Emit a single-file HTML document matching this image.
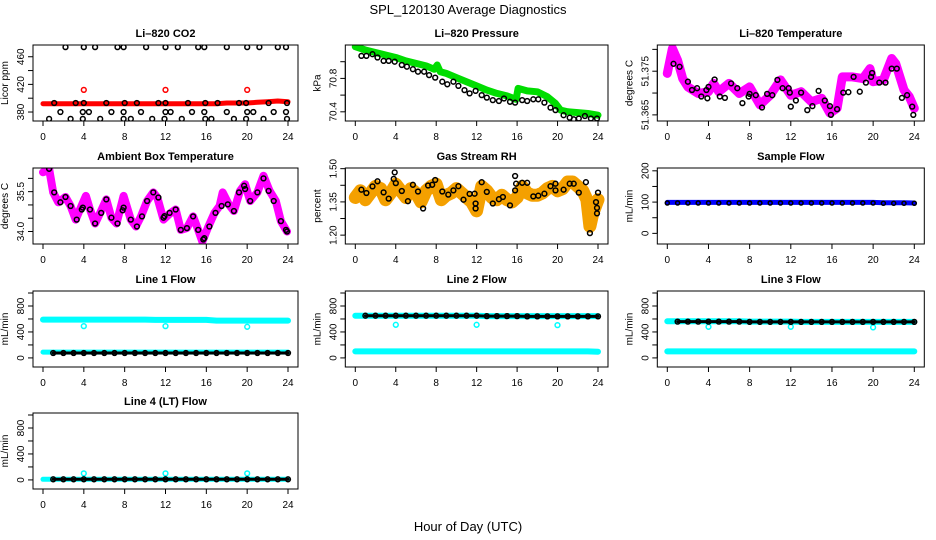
<!DOCTYPE html>
<html><head><meta charset="utf-8">
<style>
html,body{margin:0;padding:0;background:#fff;}
svg{display:block;font-family:"Liberation Sans",Arial,sans-serif;}
</style></head>
<body>
<svg id="chart" width="936" height="540" viewBox="0 0 936 540" xmlns="http://www.w3.org/2000/svg">
<rect width="936" height="540" fill="#fff"/>
<text x="468" y="14" font-size="13" text-anchor="middle">SPL_120130  Average Diagnostics</text>
<text x="468" y="531" font-size="13" text-anchor="middle">Hour of Day (UTC)</text>
</svg>
<script>
// ---------- data ----------
const HOURS = [0,1,2,3,4,5,6,7,8,9,10,11,12,13,14,15,16,17,18,19,20,21,22,23,24];
const xTicks = [0,4,8,12,16,20,24];

// CO2
const co2Red = [392,392,392,392,392,392,392,392,392,392,392,392,392,392,392,392,392,392,393,393,393,394,395,396,395];
const co2OutT = [4,12,20];
const co2OutV = [412,412,412];
const co2TopT = [2.2,4,5.1,7.3,7.9,10.1,12,13.2,15.2,15.8,18,20,21.2,23,23.8];
const co2TopV = [474,474,474,474,474,474,474,474,474,474,474,474,474,474,474];
const co2MidT = [1.1,3.2,4,6.2,8,9.2,11.3,12,14.2,15.9,17.1,19.2,19.9,22.1,23.9];
const co2MidV = [393,393,393,393,393,393,393,393,393,393,393,393,393,393,393];
const co2LowT = [1.7,3.9,4.5,6.7,7.9,9.6,12,12.5,14.6,15.8,18,20,20.6,22.6,23.8];
const co2LowV = [380,380,380,380,380,380,380,380,380,380,380,380,380,380,380];
const co2BotT = [0.6,2.7,3.9,5.6,7.9,8.6,10.7,11.9,13.6,15.9,16.5,18.7,19.9,21.6,23.9];
const co2BotV = [370,370,370,370,370,370,370,370,370,370,370,370,370,370,370];

// Pressure
const presT = [0,1,2,3,4,5,6,7,7.8,8.1,8.4,9,10,11,12,13,14,15,15.9,16.1,17,18,19,19.8,20.3,21,22,23,24];
const presV = [71.18,71.14,71.11,71.08,71.05,71.01,70.98,70.95,70.91,70.96,70.88,70.86,70.81,70.76,70.71,70.66,70.62,70.59,70.55,70.68,70.65,70.64,70.58,70.50,70.42,70.40,70.39,70.38,70.36];
const presBlkT = [0.6,1.1,1.7,2.2,2.8,3.3,3.9,4.6,5.1,5.7,6.2,6.8,7.3,7.9,8.6,9.1,9.7,10.2,10.8,11.3,11.9,12.5,13,13.6,14.2,14.7,15.3,15.8,16.5,17,17.6,18.1,18.7,19.3,19.8,20.6,21.2,21.6,22.1,22.7,23.3,23.9];
const presBlkV = [71.07,71.07,71.09,71.05,71.01,71.01,71.0,70.96,70.94,70.91,70.88,70.88,70.84,70.81,70.76,70.73,70.76,70.71,70.66,70.62,70.65,70.60,70.57,70.54,70.53,70.56,70.52,70.51,70.54,70.53,70.55,70.55,70.51,70.45,70.42,70.36,70.33,70.31,70.32,70.35,70.32,70.32];

// Li-820 temperature
const tempT = [0,0.5,1,1.5,2,3,4,4.5,5,6,7,8,9,10,11,12,13,14,15,15.8,16.5,17,18,19,19.7,20,21,21.8,22.2,23,23.5,24];
const tempV = [51.3745,51.3802,51.3775,51.3733,51.3714,51.3699,51.3703,51.3722,51.3703,51.3722,51.3699,51.3714,51.3673,51.3695,51.3730,51.3695,51.3703,51.3680,51.3688,51.3654,51.3665,51.3737,51.3737,51.3733,51.3756,51.3726,51.3730,51.3779,51.3767,51.3707,51.3692,51.3665];
const tempBlkT = [0.6,1.2,2,2.4,2.9,3.3,3.8,3.9,4,4.6,5.1,5.6,6.2,6.8,7.3,7.9,8,8.6,9.2,9.7,10.2,10.7,11.2,11.8,11.9,12,12.5,13,13.6,14.1,14.7,15.3,15.8,15.9,16.5,17.1,17.6,18.1,18.7,19.3,19.8,19.9,20.6,21.2,21.8,22.3,22.8,23.3,23.8,23.9];
const tempBlkV = [51.3767,51.3760,51.3726,51.3707,51.3711,51.3692,51.3707,51.3688,51.3714,51.3731,51.3692,51.3689,51.3722,51.3711,51.3677,51.3692,51.3698,51.3695,51.3667,51.3698,51.3695,51.3730,51.3711,51.3711,51.3701,51.3669,51.3683,51.3701,51.3661,51.3670,51.3705,51.3683,51.3670,51.3650,51.3663,51.3701,51.3702,51.3737,51.3703,51.3724,51.3737,51.3746,51.3724,51.3724,51.3756,51.3756,51.3689,51.3695,51.3669,51.3650];

// Ambient box temperature
const ambT = [0,0.6,1,1.5,2.2,2.7,3.2,3.7,4.2,4.6,5.1,5.6,6.2,6.7,7.2,7.9,8.6,9.1,9.6,10.2,10.8,11.2,11.8,12.5,13,13.5,14.1,14.7,15.2,15.6,16.2,16.8,17.3,17.6,18.2,18.7,19.3,19.8,20.3,21,21.6,22.2,22.8,23.3,23.9];
const ambV = [36.23,36.36,35.47,35.1,35.3,34.96,34.45,34.9,35.34,34.83,34.3,34.7,35.21,34.52,34.3,35.34,34.45,34.19,34.57,35.15,35.47,35.28,34.45,34.7,34.83,34.06,34.13,34.57,34.06,33.62,34.19,34.7,34.96,35.47,35.02,34.77,35.53,35.78,35.15,35.47,36.1,35.53,35.15,34.39,34.0];
const ambBlkT = [0.6,1.1,1.7,2.2,2.7,3.3,3.8,3.9,4.6,5.1,5.7,6.2,6.7,7.3,7.8,7.9,8.6,9.2,9.7,10.2,10.8,11.3,11.8,11.9,12.4,13,13.5,14.1,14.7,15.2,15.7,15.8,16.3,16.9,17.5,18.1,18.7,19.2,19.7,19.8,20.3,21,21.6,22.1,22.6,23.3,23.8,23.9];
const ambBlkV = [36.36,35.47,35.1,35.3,34.96,34.45,34.83,34.9,34.83,34.3,34.7,35.21,34.52,34.3,34.8,34.9,34.45,34.19,34.57,35.15,35.47,35.28,34.52,34.58,34.7,34.83,34.06,34.13,34.57,34.06,33.7,33.75,34.19,34.7,34.96,35.02,34.77,35.47,35.72,35.6,35.15,35.47,36.0,35.53,35.15,34.39,34.06,34.0];

// Gas stream RH
const rhT = [0,0.5,1,1.5,2,2.5,3,3.5,4,4.5,5,5.5,6,6.5,7,7.5,8,8.5,9,9.5,10,10.5,11,11.5,12,12.5,13,13.5,14,14.5,15,15.5,16,16.5,17,17.5,18,18.5,19,19.5,20,20.5,21,21.5,22,22.5,22.9,23.2,23.5,24];
const rhV = [1.37,1.40,1.36,1.39,1.42,1.41,1.36,1.39,1.43,1.40,1.37,1.41,1.39,1.35,1.40,1.42,1.43,1.36,1.38,1.39,1.41,1.39,1.37,1.35,1.31,1.42,1.40,1.37,1.36,1.38,1.36,1.35,1.37,1.42,1.39,1.38,1.38,1.39,1.41,1.42,1.40,1.41,1.44,1.44,1.42,1.40,1.36,1.24,1.30,1.36];
const rhBlkT = [0.6,1.1,1.7,2.2,2.8,3.3,3.8,3.9,4,4.6,5.2,5.7,6.2,6.7,7.2,7.6,7.9,8.6,9.2,9.7,10.2,10.7,11.3,11.8,11.9,11.9,12.5,13,13.6,14.2,14.6,15.3,15.8,15.8,15.9,16.5,17,17.6,18.1,18.7,19.3,19.8,19.8,20.6,21.2,21.6,22.1,22.8,23.2,23.8,23.9,23.9,24];
const rhBlkV = [1.405,1.39,1.42,1.443,1.393,1.365,1.454,1.483,1.435,1.399,1.353,1.427,1.397,1.32,1.424,1.427,1.449,1.397,1.383,1.402,1.421,1.36,1.386,1.387,1.343,1.32,1.439,1.395,1.343,1.362,1.372,1.334,1.402,1.467,1.432,1.436,1.436,1.375,1.378,1.387,1.421,1.432,1.402,1.405,1.432,1.432,1.392,1.439,1.209,1.349,1.323,1.298,1.392];

// Sample flow
const sampleBlue = [99,99,99,99,99,99,99,99,99,99,99,99,99,99,99,99,99,99,99,99,99,98,98,98,97];
const sampleBlk = [97,97,97,97,97,97,97,97,97,97,97,97,97,97,97,97,97,97,97,97,97,96,96,96,96];

// Line flows
const flowOutT = [4,12,20];
const l1Hi = [590,590,590,590,590,590,590,590,590,590,590,585,585,585,585,585,585,575,575,575,575,575,575,575,575];
const l1Out = [490,490,480];
const l1Lo = [90,90,90,90,90,90,90,90,90,90,90,90,90,90,90,90,90,90,90,90,90,90,90,90,90];
const l1Blk = [75,75,75,75,75,75,75,75,75,75,75,75,75,75,75,75,75,75,75,75,75,75,75,75,75];
const l2Hi = [650,650,650,650,650,650,650,650,650,650,650,650,650,645,645,645,645,645,645,645,645,645,645,645,645];
const l2Out = [510,510,505];
const l2Lo = [100,100,100,100,100,100,100,100,100,100,100,100,100,100,100,100,100,100,100,100,100,100,100,100,95];
const l2Blk = [650,650,650,650,650,650,650,650,650,650,650,650,650,645,645,645,645,640,640,640,640,640,640,640,640];
const l3Hi = [565,565,565,565,565,565,565,565,560,560,560,560,560,555,555,555,555,555,555,555,555,555,555,555,555];
const l3Out = [480,480,470];
const l3Lo = [100,100,100,100,100,100,100,100,100,100,100,100,100,100,100,100,100,100,100,100,100,100,100,100,100];
const l3Blk = [560,560,560,560,560,560,560,560,555,555,555,555,555,555,555,555,555,555,555,555,555,555,555,555,555];
const l4Lo = [10,10,10,10,10,10,10,10,10,10,10,10,10,10,10,10,10,10,10,10,10,10,10,10,10];
const l4Out = [100,100,100];
const l4Blk = [10,10,10,10,10,10,10,10,10,10,10,10,10,10,10,10,10,10,10,10,10,10,10,10,10];

// ---------- drawing ----------
const NS = 'http://www.w3.org/2000/svg';
const svg = document.getElementById('chart');
function mk(tag, attrs, parent){ const e=document.createElementNS(NS,tag); for(const k in attrs) e.setAttribute(k,attrs[k]); (parent||svg).appendChild(e); return e; }

const COLS = [[43,288],[355.3,598],[667.3,914.3]];
const ROWS = [[45,121],[168,244],[291,367],[413,489]];

function panel(name, col, row, ydom, yTicks, yLabels, title, ylab, series){
  const [x0,x24] = COLS[col];
  const [top,bot] = ROWS[row];
  const left = x0-10, right = x24+10;
  const sx = t => x0 + t*(x24-x0)/24;
  const sy = v => bot - (v-ydom[0])/(ydom[1]-ydom[0])*(bot-top);
  const g = mk('g',{});
  
  
  const cp = mk('clipPath',{id:'cp-'+name}, g);
  mk('rect',{x:left,y:top,width:right-left,height:bot-top},cp);
  const sg = mk('g',{'clip-path':'url(#cp-'+name+')'}, g);
  series.forEach(s=>{
    if(s.type==='band'){
      const pts = s.t.map((t,i)=>sx(t).toFixed(1)+','+sy(s.v[i]).toFixed(1)).join(' ');
      const pl = mk('polyline',{points:pts,fill:'none',stroke:s.color,'stroke-width':s.w,'stroke-linejoin':'round','stroke-linecap':'round'}, sg);
      
      
    } else {
      const pg = mk('g',{}, sg);
      
      
      s.t.forEach((t,i)=>{
        const c = mk('circle',{cx:sx(t).toFixed(1),cy:sy(s.v[i]).toFixed(1),r:s.r||2.4,fill:'none',stroke:s.color,'stroke-width':s.sw||1.5}, pg);
        
        
      });
    }
  });
  const box = mk('rect',{x:left,y:top,width:right-left,height:bot-top,fill:'none',stroke:'#000','stroke-width':1}, g);
  
  
  const xa = mk('g',{}, g);
  
  
  mk('line',{x1:sx(0),x2:sx(24),y1:bot,y2:bot,stroke:'#000'},xa);
  xTicks.forEach(t=>{
    mk('line',{x1:sx(t),x2:sx(t),y1:bot,y2:bot+5,stroke:'#000'},xa);
    const tx = mk('text',{x:sx(t),y:bot+19,'font-size':10,'text-anchor':'middle'},xa);
    tx.textContent = t;
  });
  const ya = mk('g',{}, g);
  
  
  mk('line',{x1:left,x2:left,y1:sy(yTicks[0]),y2:sy(yTicks[yTicks.length-1]),stroke:'#000'},ya);
  yTicks.forEach(v=>{ mk('line',{x1:left-5,x2:left,y1:sy(v),y2:sy(v),stroke:'#000'},ya); });
  yLabels.forEach(lb=>{
    const y = sy(parseFloat(lb));
    const tx = mk('text',{x:left-9,y:y,'font-size':10,'text-anchor':'middle',transform:'rotate(-90 '+(left-9)+' '+y+')'},ya);
    tx.textContent = lb;
  });
  const yt = mk('text',{x:left-25,y:(top+bot)/2,'font-size':10,'text-anchor':'middle',transform:'rotate(-90 '+(left-25)+' '+((top+bot)/2)+')'}, g);
  
  
  yt.textContent = ylab;
  const tt = mk('text',{x:(left+right)/2,y:top-8,'font-size':11,'font-weight':'bold','text-anchor':'middle'}, g);
  
  
  tt.textContent = title;
}

const FLOWDOM = [-140,1031];
const FLOWTICKS = [0,200,400,600,800,1000];
const FLOWLAB = ['0','400','800'];
const CY='#00ffff';

panel('co2',0,0,[367,477],[380,400,420,440,460],['380','420','460'],'Li\u2013820 CO2','Licor ppm',[
  {type:'band',name:'co2-series',t:HOURS,v:co2Red,color:'#ff0000',w:5},
  {type:'pts',name:'co2-outliers',t:co2OutT,v:co2OutV,color:'#ff0000'},
  {type:'pts',name:'co2-avg-high',t:co2TopT,v:co2TopV,color:'#000'},
  {type:'pts',name:'co2-avg-mid',t:co2MidT,v:co2MidV,color:'#000'},
  {type:'pts',name:'co2-avg-low',t:co2LowT,v:co2LowV,color:'#000'},
  {type:'pts',name:'co2-avg-bottom',t:co2BotT,v:co2BotV,color:'#000'}]);
panel('pressure',1,0,[70.29,71.2],[70.4,70.6,70.8,71.0],['70.4','70.8'],'Li\u2013820 Pressure','kPa',[
  {type:'band',name:'pressure-series',t:presT,v:presV,color:'#00dd00',w:7},
  {type:'pts',name:'pressure-avg',t:presBlkT,v:presBlkV,color:'#000'}]);
panel('temperature',2,0,[51.3636,51.381],[51.365,51.370,51.375,51.380],['51.365','51.375'],'Li\u2013820 Temperature','degrees C',[
  {type:'band',name:'temperature-series',t:tempT,v:tempV,color:'#ff00ff',w:9},
  {type:'pts',name:'temperature-avg',t:tempBlkT,v:tempBlkV,color:'#000'}]);
panel('ambient',0,1,[33.53,36.39],[34,34.5,35,35.5,36],['34.0','35.5'],'Ambient Box Temperature','degrees C',[
  {type:'band',name:'ambient-series',t:ambT,v:ambV,color:'#ff00ff',w:8},
  {type:'pts',name:'ambient-avg',t:ambBlkT,v:ambBlkV,color:'#000'}]);
panel('rh',1,1,[1.16,1.503],[1.20,1.275,1.35,1.425,1.50],['1.20','1.35','1.50'],'Gas Stream RH','percent',[
  {type:'band',name:'rh-series',t:rhT,v:rhV,color:'#f4a000',w:13},
  {type:'pts',name:'rh-avg',t:rhBlkT,v:rhBlkV,color:'#000'}]);
panel('sample-flow',2,1,[-34,209],[0,50,100,150,200],['0','100','200'],'Sample Flow','mL/min',[
  {type:'band',name:'sample-flow-series',t:HOURS,v:sampleBlue,color:'#0000ff',w:5},
  {type:'pts',name:'sample-flow-avg',t:HOURS,v:sampleBlk,color:'#000',r:2}]);
panel('line1',0,2,FLOWDOM,FLOWTICKS,FLOWLAB,'Line 1 Flow','mL/min',[
  {type:'band',name:'line1-high-series',t:HOURS,v:l1Hi,color:CY,w:6},
  {type:'band',name:'line1-low-series',t:HOURS,v:l1Lo,color:CY,w:5},
  {type:'pts',name:'line1-outliers',t:flowOutT,v:l1Out,color:CY},
  {type:'band',name:'line1-avg-band',t:HOURS.slice(1),v:l1Blk.slice(1),color:'#000',w:3},
  {type:'pts',name:'line1-avg',t:HOURS.slice(1),v:l1Blk.slice(1),color:'#000'}]);
panel('line2',1,2,FLOWDOM,FLOWTICKS,FLOWLAB,'Line 2 Flow','mL/min',[
  {type:'band',name:'line2-high-series',t:HOURS,v:l2Hi,color:CY,w:6},
  {type:'band',name:'line2-low-series',t:HOURS,v:l2Lo,color:CY,w:6},
  {type:'pts',name:'line2-outliers',t:flowOutT,v:l2Out,color:CY},
  {type:'band',name:'line2-avg-band',t:HOURS.slice(1),v:l2Blk.slice(1),color:'#000',w:3},
  {type:'pts',name:'line2-avg',t:HOURS.slice(1),v:l2Blk.slice(1),color:'#000'}]);
panel('line3',2,2,FLOWDOM,FLOWTICKS,FLOWLAB,'Line 3 Flow','mL/min',[
  {type:'band',name:'line3-high-series',t:HOURS,v:l3Hi,color:CY,w:6},
  {type:'band',name:'line3-low-series',t:HOURS,v:l3Lo,color:CY,w:6},
  {type:'pts',name:'line3-outliers',t:flowOutT,v:l3Out,color:CY},
  {type:'band',name:'line3-avg-band',t:HOURS.slice(1),v:l3Blk.slice(1),color:'#000',w:3},
  {type:'pts',name:'line3-avg',t:HOURS.slice(1),v:l3Blk.slice(1),color:'#000'}]);
panel('line4',0,3,FLOWDOM,FLOWTICKS,FLOWLAB,'Line 4 (LT) Flow','mL/min',[
  {type:'band',name:'line4-series',t:HOURS,v:l4Lo,color:CY,w:5},
  {type:'pts',name:'line4-outliers',t:flowOutT,v:l4Out,color:CY},
  {type:'band',name:'line4-avg-band',t:HOURS.slice(1),v:l4Blk.slice(1),color:'#000',w:3},
  {type:'pts',name:'line4-avg',t:HOURS.slice(1),v:l4Blk.slice(1),color:'#000'}]);
</script>
</body></html>
